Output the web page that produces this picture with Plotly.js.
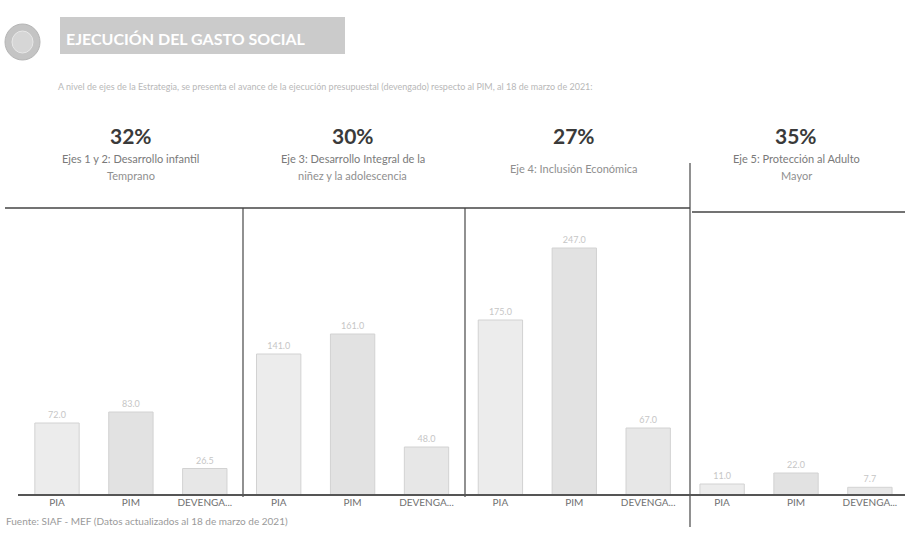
<!DOCTYPE html>
<html>
<head>
<meta charset="utf-8">
<script src="https://cdn.plot.ly/plotly-3.0.1.min.js"></script>
<style>html,body{margin:0;padding:0;background:#fff;}#chart{width:905px;height:553px;}</style>
</head>
<body>
<div id="chart"></div>
<script>
// ---- data ----
const categories = ["PIA", "PIM", "DEVENGADO"];
const tickLabels = ["PIA", "PIM", "DEVENGA..."];
const ejes = [
  ["Ejes 1 y 2: Desarrollo infantil", "Temprano"],
  ["Eje 3: Desarrollo Integral de la", "niñez y la adolescencia"],
  ["Eje 4: Inclusión Económica"],
  ["Eje 5: Protección al Adulto", "Mayor"]
];
const pctEjecucion = ["32%", "30%", "27%", "35%"];
const piaValues = [72, 141, 175, 11];
const pimValues = [83, 161, 247, 22];
const devValues = [26.5, 48, 67, 7.7];
const series = [piaValues, pimValues, devValues];
const barColors = ["#ececec", "#e2e2e2", "#e7e7e7"];

// ---- geometry helpers (pixel -> paper) ----
const W = 905, H = 553;
const px = v => v / W;
const py = v => 1 - v / H;

const xs = [], ys = [], cols = [], texts = [], tickvals = [], ticktext = [];
for (let g = 0; g < ejes.length; g++) {
  for (let c = 0; c < categories.length; c++) {
    const pos = g * categories.length + c;
    xs.push(pos);
    ys.push(series[c][g]);
    cols.push(barColors[c]);
    texts.push(series[c][g].toFixed(1));
    tickvals.push(pos);
    ticktext.push(tickLabels[c]);
  }
}

const trace = {
  type: "bar",
  x: xs, y: ys,
  width: 0.6,
  marker: {color: cols, line: {color: "#d2d2d2", width: 1}},
  text: texts,
  textposition: "outside",
  textfont: {family: "Lato", size: 9, color: "#c6c6c6"},
  cliponaxis: false,
  hoverinfo: "skip"
};

const annotations = [];
const shapes = [];
const nG = ejes.length, nC = categories.length;
const dividerPx = [243, 465, 690];

for (let g = 0; g < nG; g++) {
  const center = g * nC + (nC - 1) / 2;
  annotations.push({
    xref: "x", yref: "paper", x: center, y: py(135),
    text: "<b>" + pctEjecucion[g] + "</b>", showarrow: false,
    font: {family: "Lato", size: 21, color: "#3a3a3a"}, yanchor: "middle"
  });
  const lines = ejes[g];
  if (lines.length === 1) {
    annotations.push({xref: "x", yref: "paper", x: center, y: py(168), text: lines[0], showarrow: false,
      font: {family: "Lato", size: 11, color: "#8f8f8f"}, yanchor: "middle"});
  } else {
    annotations.push({xref: "x", yref: "paper", x: center, y: py(158), text: lines[0], showarrow: false,
      font: {family: "Lato", size: 11, color: "#7a7a7a"}, yanchor: "middle"});
    annotations.push({xref: "x", yref: "paper", x: center, y: py(176), text: lines[1], showarrow: false,
      font: {family: "Lato", size: 11, color: "#8f8f8f"}, yanchor: "middle"});
  }
  if (g > 0) {
    const last = g === nG - 1;
    const d = px(dividerPx[g - 1]);
    shapes.push({type: "line", xref: "paper", yref: "paper", x0: d, x1: d,
      y0: py(last ? 163 : 208), y1: py(last ? 527 : 497),
      line: {color: "#555", width: 1.3}});
  }
}

// header separator lines
shapes.push({type: "line", xref: "paper", yref: "paper", x0: px(5), x1: px(690), y0: py(208), y1: py(208),
  line: {color: "#444", width: 1.3}});
shapes.push({type: "line", xref: "paper", yref: "paper", x0: px(692), x1: px(905), y0: py(212), y1: py(212),
  line: {color: "#444", width: 1.3}});
// baseline
shapes.push({type: "line", xref: "paper", yref: "paper", x0: px(18), x1: px(905), y0: py(495), y1: py(495),
  line: {color: "#555", width: 1.8}});

// logo & banner
shapes.push({type: "circle", xref: "paper", yref: "paper", x0: px(5), x1: px(40), y0: py(60), y1: py(24),
  fillcolor: "#c4c4c4", line: {color: "#b5b5b5", width: 1}});
shapes.push({type: "circle", xref: "paper", yref: "paper", x0: px(12), x1: px(33), y0: py(53), y1: py(31),
  fillcolor: "#d6d6d6", line: {color: "#e8e8e8", width: 1}});
shapes.push({type: "rect", xref: "paper", yref: "paper", x0: px(60), x1: px(345), y0: py(54), y1: py(17),
  fillcolor: "#cbcbcb", line: {width: 0}});
annotations.push({xref: "paper", yref: "paper", x: px(64), y: py(38), xanchor: "left", yanchor: "middle",
  text: "<b>EJECUCIÓN DEL GASTO SOCIAL</b>", showarrow: false,
  font: {family: "Lato", size: 16, color: "#fff"}});

// intro sentence
annotations.push({xref: "paper", yref: "paper", x: px(56), y: py(86), xanchor: "left", yanchor: "middle",
  text: "A nivel de ejes de la Estrategia, se presenta el avance de la ejecución presupuestal (devengado) respecto al PIM, al 18 de marzo de 2021:",
  showarrow: false, font: {family: "Lato", size: 9, color: "#b8b8b8"}});

// footer
annotations.push({xref: "paper", yref: "paper", x: px(4), y: py(521), xanchor: "left", yanchor: "middle",
  text: "Fuente: SIAF - MEF (Datos actualizados al 18 de marzo de 2021)",
  showarrow: false, font: {family: "Lato", size: 10, color: "#9a9a9a"}});

const unit = 73.9;
const x0 = -57 / unit;
const layout = {
  width: W, height: H,
  margin: {l: 0, r: 0, t: 0, b: 0},
  paper_bgcolor: "#fff", plot_bgcolor: "#fff",
  showlegend: false,
  bargap: 0,
  xaxis: {
    domain: [0, 1], range: [x0, x0 + W / unit],
    tickvals: tickvals, ticktext: ticktext, ticks: "",
    tickfont: {family: "Lato", size: 10, color: "#707070"},
    showgrid: false, zeroline: false, showline: false, fixedrange: true
  },
  yaxis: {
    domain: [1 - 495 / H, 1 - 216 / H], range: [0, 279],
    visible: false, showgrid: false, zeroline: false, fixedrange: true
  },
  annotations: annotations,
  shapes: shapes
};

Plotly.newPlot("chart", [trace], layout, {displayModeBar: false, staticPlot: true});
</script>
</body>
</html>
